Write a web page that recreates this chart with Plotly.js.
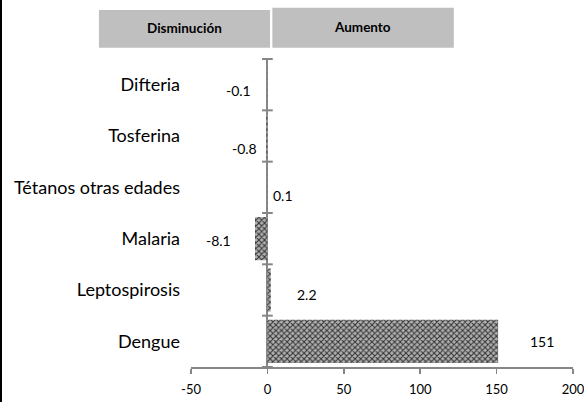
<!DOCTYPE html>
<html>
<head>
<meta charset="utf-8">
<script src="https://cdn.plot.ly/plotly-3.0.1.min.js"></script>
<style>
html,body{margin:0;padding:0;background:#fff;}
#wrap{position:relative;width:584px;height:402px;}
#chart{width:584px;height:402px;}
#edge{position:absolute;left:0;top:0;width:2px;height:402px;background:#000;}
</style>
</head>
<body>
<div id="wrap"><div id="chart"></div><div id="edge"></div></div>
<script>
const categories = ["Difteria", "Tosferina", "Tétanos otras edades", "Malaria", "Leptospirosis", "Dengue"];
const values = [-0.1, -0.8, 0.1, -8.1, 2.2, 151];
const valueLabels = ["-0.1", "-0.8", "0.1", "-8.1", "2.2", "151"];
const headerLabels = ["Disminución", "Aumento"];
const xTickVals = [-50, 0, 50, 100, 150, 200];

// label offsets (pixels) — layout only
const labelDx = [-29, -22, 15, -37, 36, 44];
const labelDy = [-6, -12, -8, -2, -4, 0];

const FONT = "Lato, 'Open Sans', sans-serif";
const AXIS = "#868686";

const trace = {
  type: "bar",
  orientation: "h",
  y: categories,
  x: values,
  width: 0.84,
  marker: {
    color: "#9a9a9a",
    line: {width: 0},
    pattern: {shape: "x", size: 4, solidity: 0.45, fgcolor: "#333333", bgcolor: "#b0b0b0", fillmode: "replace"}
  },
  hoverinfo: "skip",
  showlegend: false
};

const annotations = values.map((v, i) => ({
  x: v, y: categories[i], xref: "x", yref: "y",
  text: valueLabels[i], showarrow: false,
  xshift: labelDx[i], yshift: labelDy[i],
  font: {family: FONT, size: 14, color: "#000"}
}));

annotations.push({
  x: -0.016, y: 1.101, xref: "paper", yref: "paper", xanchor: "center", yanchor: "middle",
  text: "<b>" + headerLabels[0] + "</b>",
  showarrow: false, font: {family: FONT, size: 13.5, color: "#000"}
});
annotations.push({
  x: 0.45, y: 1.104, xref: "paper", yref: "paper", xanchor: "center", yanchor: "middle",
  text: "<b>" + headerLabels[1] + "</b>",
  showarrow: false, font: {family: FONT, size: 13.5, color: "#000"}
});

const shapes = [
  {type: "rect", xref: "paper", yref: "paper", x0: -0.241, x1: 0.207, y0: 1.0367, y1: 1.159,
   fillcolor: "#bfbfbf", line: {width: 0}, layer: "below"},
  {type: "rect", xref: "paper", yref: "paper", x0: 0.213, x1: 0.688, y0: 1.0367, y1: 1.166,
   fillcolor: "#bfbfbf", line: {width: 0}, layer: "below"}
];
// category boundary tick marks crossing the zero line
const nCat = categories.length;
for (let i = 0; i <= nCat; i++) {
  const yp = 1 - i / nCat;
  shapes.push({
    type: "line", xref: "x", yref: "paper",
    x0: -3.5, x1: 3.5, y0: yp, y1: yp,
    line: {color: AXIS, width: 2}, layer: "above"
  });
}

const layout = {
  width: 584, height: 402,
  margin: {l: 191, r: 11, t: 59, b: 35, pad: 0},
  paper_bgcolor: "#fff", plot_bgcolor: "#fff",
  font: {family: FONT, color: "#000"},
  bargap: 0.16,
  xaxis: {
    range: [-50, 200], tickvals: xTickVals, ticktext: xTickVals.map(String),
    showgrid: false, zeroline: true, zerolinecolor: AXIS, zerolinewidth: 2,
    showline: true, linecolor: AXIS, linewidth: 1.5,
    ticks: "outside", ticklen: 5, tickcolor: AXIS, tickwidth: 1.5,
    ticklabelstandoff: 5, ticklabeloverflow: "allow",
    tickfont: {family: FONT, size: 13, color: "#000"},
    fixedrange: true
  },
  yaxis: {
    type: "category", categoryorder: "array", categoryarray: categories,
    range: [nCat - 0.5, -0.5],
    showgrid: false, zeroline: false, showline: false, ticks: "",
    ticklabelstandoff: 10,
    tickfont: {family: FONT, size: 18, color: "#000"},
    fixedrange: true
  },
  shapes: shapes,
  annotations: annotations
};

Plotly.newPlot("chart", [trace], layout, {displayModeBar: false, staticPlot: true});
</script>
</body>
</html>
